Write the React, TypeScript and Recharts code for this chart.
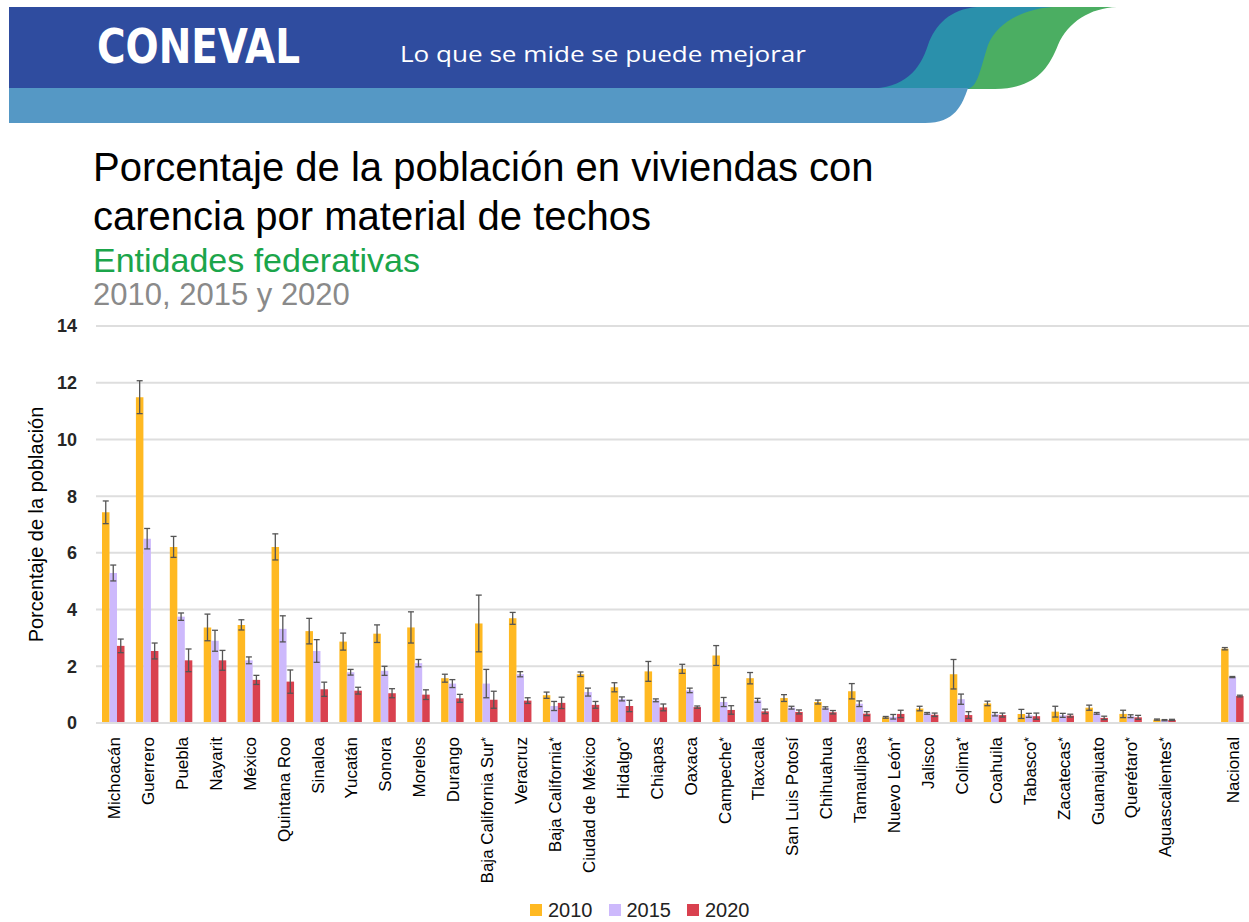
import React from 'react';
import { BarChart, Bar, XAxis, YAxis, CartesianGrid, Legend, ErrorBar, Label } from 'recharts';

const FONT = '"Liberation Sans", Arial, sans-serif';

const categories = [
  'Michoacán', 'Guerrero', 'Puebla', 'Nayarit', 'México', 'Quintana Roo', 'Sinaloa', 'Yucatán',
  'Sonora', 'Morelos', 'Durango', 'Baja California Sur*', 'Veracruz', 'Baja California*',
  'Ciudad de México', 'Hidalgo*', 'Chiapas', 'Oaxaca', 'Campeche*', 'Tlaxcala', 'San Luis Potosí',
  'Chihuahua', 'Tamaulipas', 'Nuevo León*', 'Jalisco', 'Colima*', 'Coahuila', 'Tabasco*',
  'Zacatecas*', 'Guanajuato', 'Querétaro*', 'Aguascalientes*', '', 'Nacional',
];

const values2010 = [7.43, 11.49, 6.21, 3.37, 3.46, 6.21, 3.24, 2.87, 3.15, 3.37, 1.58, 3.51, 3.69, 0.98, 1.72, 1.26, 1.82, 1.91, 2.38, 1.58, 0.88, 0.74, 1.12, 0.2, 0.51, 1.72, 0.69, 0.32, 0.4, 0.54, 0.32, 0.12, null, 2.62];
const errors2010 = [0.4, 0.58, 0.37, 0.47, 0.18, 0.46, 0.45, 0.3, 0.31, 0.55, 0.14, 1.0, 0.21, 0.11, 0.08, 0.16, 0.35, 0.16, 0.35, 0.2, 0.12, 0.07, 0.27, 0.03, 0.08, 0.52, 0.08, 0.16, 0.19, 0.09, 0.13, 0.02, null, 0.04];
const values2015 = [5.29, 6.5, 3.75, 2.9, 2.21, 3.32, 2.54, 1.79, 1.84, 2.11, 1.39, 1.39, 1.72, 0.6, 1.09, 0.85, 0.8, 1.15, 0.74, 0.8, 0.54, 0.53, 0.68, 0.22, 0.34, 0.84, 0.31, 0.27, 0.27, 0.34, 0.24, 0.1, null, 1.62];
const errors2015 = [0.28, 0.36, 0.13, 0.37, 0.12, 0.46, 0.4, 0.1, 0.16, 0.13, 0.14, 0.5, 0.09, 0.16, 0.14, 0.07, 0.05, 0.08, 0.16, 0.07, 0.05, 0.04, 0.1, 0.08, 0.03, 0.18, 0.06, 0.07, 0.07, 0.03, 0.05, 0.02, null, 0.02];
const values2020 = [2.72, 2.54, 2.21, 2.21, 1.52, 1.46, 1.19, 1.14, 1.05, 1.0, 0.87, 0.82, 0.79, 0.71, 0.64, 0.6, 0.55, 0.56, 0.46, 0.41, 0.39, 0.38, 0.33, 0.32, 0.29, 0.28, 0.28, 0.24, 0.26, 0.18, 0.2, 0.11, null, 0.95];
const errors2020 = [0.24, 0.28, 0.4, 0.35, 0.16, 0.41, 0.25, 0.12, 0.16, 0.17, 0.14, 0.3, 0.1, 0.2, 0.12, 0.2, 0.12, 0.04, 0.15, 0.08, 0.07, 0.06, 0.07, 0.13, 0.06, 0.12, 0.07, 0.11, 0.05, 0.06, 0.07, 0.02, null, 0.03];

const yTicks = [0, 2, 4, 6, 8, 10, 12, 14];
const seriesNames = ['2010', '2015', '2020'];
const seriesColors = ['#FFB922', '#CDB9FC', '#D9414F'];

const data = categories.map((name, i) => ({
  name,
  v2010: values2010[i],
  e2010: errors2010[i],
  v2015: values2015[i],
  e2015: errors2015[i],
  v2020: values2020[i],
  e2020: errors2020[i],
}));

const XTick = (props: any) => {
  const { x, y, payload } = props;
  const label: string = payload && payload.value ? String(payload.value) : '';
  if (!label) return null;
  const star = label.endsWith('*');
  const base = star ? label.slice(0, -1) : label;
  return (
    <g transform={`translate(${x},${y})`}>
      <text
        transform="rotate(-90)"
        x={-6}
        y={0}
        dy="0.42em"
        textAnchor="end"
        fontSize={17}
        fill="#000"
        fontFamily={FONT}
      >
        {base}
        {star && (
          <tspan fontSize={12} dy={-3}>
            *
          </tspan>
        )}
      </text>
    </g>
  );
};

const YLabel = (props: any) => {
  const vb = props.viewBox || { x: 0, y: 0, width: 0, height: 0 };
  const cx = 43;
  const cy = vb.y + vb.height / 2;
  return (
    <text
      x={cx}
      y={cy}
      transform={`rotate(-90, ${cx}, ${cy})`}
      textAnchor="middle"
      fontSize={20}
      fill="#000"
      fontFamily={FONT}
    >
      Porcentaje de la población
    </text>
  );
};

const LegendContent = () => (
  <div
    style={{
      display: 'flex',
      alignItems: 'center',
      fontSize: 20,
      fontFamily: FONT,
      color: '#222',
      height: 24,
      lineHeight: '24px',
    }}
  >
    {seriesNames.map((n, i) => (
      <div key={n} style={{ display: 'flex', alignItems: 'center', marginRight: 16 }}>
        <span
          style={{
            display: 'inline-block',
            width: 12,
            height: 12,
            background: seriesColors[i],
            marginRight: 6,
          }}
        />
        {n}
      </div>
    ))}
  </div>
);

const Header = () => (
  <svg width={1249} height={322} style={{ position: 'absolute', left: 0, top: 0 }}>
    <path d="M9,7 H1117 C1090,8 1068,22 1058,45 C1048,70 1035,88 995,89 H9 Z" fill="#4BAE62" />
    <path d="M9,7 H1053 C1020,9 996,25 988,45 C980,70 978,86 968,89 H9 Z" fill="#2A90AB" />
    <path d="M9,7 H977 C950,9 935,25 928,45 C920,70 905,88 868,89 H9 Z" fill="#2F4C9F" />
    <path d="M9,88 H968 C962,105 955,123 925,123 H9 Z" fill="#5598C5" />
    <text
      x={97}
      y={63}
      fill="#fff"
      fontFamily='"DejaVu Sans Condensed", "DejaVu Sans", sans-serif'
      fontWeight="bold"
      fontSize={48}
      textLength={203}
      lengthAdjust="spacingAndGlyphs"
    >
      CONEVAL
    </text>
    <text
      x={400}
      y={62}
      fill="#fff"
      fontFamily='"Open Sans", sans-serif'
      fontSize={22}
      textLength={406}
      lengthAdjust="spacingAndGlyphs"
    >
      Lo que se mide se puede mejorar
    </text>
    <text x={93} y={181} fontSize={40} fill="#000" fontFamily={FONT}>
      Porcentaje de la población en viviendas con
    </text>
    <text x={93} y={230} fontSize={40} fill="#000" fontFamily={FONT}>
      carencia por material de techos
    </text>
    <text x={93} y={272} fontSize={34} fill="#1BA54A" fontFamily={FONT}>
      Entidades federativas
    </text>
    <text x={93} y={305} fontSize={31} fill="#8A8A8A" fontFamily={FONT}>
      2010, 2015 y 2020
    </text>
  </svg>
);

export default function App() {
  return (
    <div
      style={{
        position: 'absolute',
        left: 0,
        top: 0,
        width: 1249,
        height: 922,
        background: '#fff',
        overflow: 'hidden',
        fontFamily: FONT,
      }}
    >
      <Header />
      <div style={{ position: 'absolute', left: 0, top: 300 }}>
        <BarChart
          width={1249}
          height={622}
          data={data}
          margin={{ top: 26, right: 0, left: 0, bottom: 0 }}
          barGap={0}
          barSize={7.5}
        >
          <CartesianGrid vertical={false} stroke="#DEDEDE" strokeWidth={2} />
          <XAxis
            dataKey="name"
            interval={0}
            height={175}
            tickLine={false}
            axisLine={{ stroke: '#DEDEDE', strokeWidth: 2 }}
            tick={<XTick />}
          />
          <YAxis
            width={96}
            domain={[0, 14]}
            ticks={yTicks}
            axisLine={false}
            tickLine={false}
            tickSize={6}
            tickMargin={13}
            tick={{ fontSize: 18, fontWeight: 'bold', fill: '#262626', fontFamily: FONT }}
          >
            <Label content={<YLabel />} />
          </YAxis>
          <Legend
            verticalAlign="bottom"
            content={<LegendContent />}
            wrapperStyle={{ left: 530, width: 260, height: 24 }}
          />
          <Bar dataKey="v2010" name="2010" fill={seriesColors[0]} isAnimationActive={false}>
            <ErrorBar dataKey="e2010" width={3} stroke="#555" strokeWidth={1.3} isAnimationActive={false} />
          </Bar>
          <Bar dataKey="v2015" name="2015" fill={seriesColors[1]} isAnimationActive={false}>
            <ErrorBar dataKey="e2015" width={3} stroke="#555" strokeWidth={1.3} isAnimationActive={false} />
          </Bar>
          <Bar dataKey="v2020" name="2020" fill={seriesColors[2]} isAnimationActive={false}>
            <ErrorBar dataKey="e2020" width={3} stroke="#555" strokeWidth={1.3} isAnimationActive={false} />
          </Bar>
        </BarChart>
      </div>
    </div>
  );
}
